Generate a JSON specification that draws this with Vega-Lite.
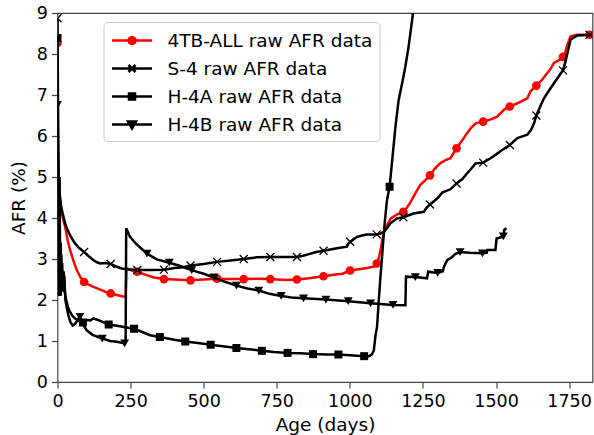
{
  "$schema": "https://vega.github.io/schema/vega-lite/v6.json",
  "width": 535,
  "height": 369,
  "autosize": {"type": "none"},
  "padding": {"left": 57.5, "top": 13, "right": 2, "bottom": 53},
  "config": {
    "font": "DejaVu Sans",
    "view": {"stroke": "#444444", "strokeWidth": 1.2},
    "axis": {
      "domain": false, "grid": false, "tickSize": 6, "tickColor": "#444444", "tickWidth": 1.2,
      "labelFontSize": 17.5, "labelColor": "black", "labelPadding": 4, "labelFlush": false,
      "titleFontSize": 18.5, "titleColor": "black", "titleFontWeight": "normal"
    },
    "axisX": {"titlePadding": 6},
    "axisY": {"titlePadding": 8}
  },
  "datasets": {
    "l_4tb": [
      {"age":0,"afr":8.27},{"age":1,"afr":7.0},{"age":2,"afr":5.8},{"age":4,"afr":5.0},{"age":7,"afr":4.6},{"age":10,"afr":4.35},{"age":15,"afr":4.1},{"age":20,"afr":3.95},{"age":26,"afr":3.79},{"age":35,"afr":3.45},{"age":43,"afr":3.22},{"age":55,"afr":2.95},{"age":66,"afr":2.73},{"age":78,"afr":2.56},{"age":91,"afr":2.44},{"age":105,"afr":2.38},{"age":123,"afr":2.32},{"age":140,"afr":2.27},{"age":151,"afr":2.24},{"age":170,"afr":2.18},{"age":182,"afr":2.16},{"age":203,"afr":2.12},{"age":220,"afr":2.09},{"age":233,"afr":2.08},{"age":236,"afr":2.77},{"age":255,"afr":2.72},{"age":273,"afr":2.69},{"age":300,"afr":2.62},{"age":330,"afr":2.55},{"age":364,"afr":2.51},{"age":400,"afr":2.5},{"age":455,"afr":2.48},{"age":500,"afr":2.5},{"age":546,"afr":2.52},{"age":590,"afr":2.51},{"age":637,"afr":2.51},{"age":680,"afr":2.52},{"age":728,"afr":2.51},{"age":780,"afr":2.49},{"age":819,"afr":2.5},{"age":860,"afr":2.53},{"age":910,"afr":2.58},{"age":950,"afr":2.62},{"age":975,"afr":2.64},{"age":1001,"afr":2.72},{"age":1030,"afr":2.75},{"age":1059,"afr":2.78},{"age":1085,"afr":2.82},{"age":1092,"afr":2.89},{"age":1100,"afr":3.05},{"age":1106,"afr":3.25},{"age":1112,"afr":3.5},{"age":1118,"afr":3.68},{"age":1125,"afr":3.8},{"age":1133,"afr":3.9},{"age":1140,"afr":3.99},{"age":1160,"afr":4.08},{"age":1183,"afr":4.15},{"age":1195,"afr":4.25},{"age":1207,"afr":4.38},{"age":1224,"afr":4.6},{"age":1241,"afr":4.81},{"age":1255,"afr":4.9},{"age":1274,"afr":5.04},{"age":1290,"afr":5.2},{"age":1310,"afr":5.34},{"age":1330,"afr":5.42},{"age":1344,"afr":5.46},{"age":1365,"afr":5.7},{"age":1385,"afr":5.9},{"age":1401,"afr":6.07},{"age":1415,"afr":6.2},{"age":1430,"afr":6.31},{"age":1456,"afr":6.35},{"age":1480,"afr":6.4},{"age":1504,"afr":6.47},{"age":1527,"afr":6.64},{"age":1547,"afr":6.72},{"age":1580,"afr":6.82},{"age":1607,"afr":6.92},{"age":1618,"afr":7.09},{"age":1638,"afr":7.23},{"age":1655,"afr":7.35},{"age":1670,"afr":7.49},{"age":1685,"afr":7.62},{"age":1698,"afr":7.78},{"age":1715,"afr":7.85},{"age":1729,"afr":7.93},{"age":1737,"afr":8.05},{"age":1744,"afr":8.23},{"age":1755,"afr":8.43},{"age":1778,"afr":8.47},{"age":1830,"afr":8.47}
    ],
    "m_4tb": [
      {"age":0,"afr":8.27},{"age":91,"afr":2.44},{"age":182,"afr":2.16},{"age":273,"afr":2.69},{"age":364,"afr":2.51},{"age":455,"afr":2.48},{"age":546,"afr":2.52},{"age":637,"afr":2.51},{"age":728,"afr":2.51},{"age":819,"afr":2.5},{"age":910,"afr":2.58},{"age":1001,"afr":2.72},{"age":1092,"afr":2.89},{"age":1183,"afr":4.15},{"age":1274,"afr":5.04},{"age":1365,"afr":5.7},{"age":1456,"afr":6.35},{"age":1547,"afr":6.72},{"age":1638,"afr":7.23},{"age":1729,"afr":7.93},{"age":1820,"afr":8.47}
    ],
    "l_s4": [
      {"age":0,"afr":8.87},{"age":1,"afr":7.6},{"age":2,"afr":6.2},{"age":3,"afr":5.4},{"age":5,"afr":4.9},{"age":8,"afr":4.55},{"age":12,"afr":4.3},{"age":18,"afr":4.1},{"age":26,"afr":3.87},{"age":35,"afr":3.7},{"age":43,"afr":3.58},{"age":52,"afr":3.47},{"age":60,"afr":3.38},{"age":75,"afr":3.26},{"age":91,"afr":3.17},{"age":110,"afr":3.05},{"age":123,"afr":2.97},{"age":135,"afr":2.92},{"age":146,"afr":2.89},{"age":165,"afr":2.9},{"age":182,"afr":2.88},{"age":203,"afr":2.81},{"age":220,"afr":2.77},{"age":237,"afr":2.75},{"age":273,"afr":2.73},{"age":317,"afr":2.73},{"age":364,"afr":2.74},{"age":400,"afr":2.78},{"age":430,"afr":2.8},{"age":455,"afr":2.84},{"age":500,"afr":2.88},{"age":546,"afr":2.93},{"age":600,"afr":2.97},{"age":637,"afr":3.0},{"age":680,"afr":3.04},{"age":728,"afr":3.05},{"age":780,"afr":3.05},{"age":819,"afr":3.05},{"age":840,"afr":3.08},{"age":860,"afr":3.12},{"age":885,"afr":3.17},{"age":910,"afr":3.2},{"age":956,"afr":3.26},{"age":990,"afr":3.3},{"age":995,"afr":3.38},{"age":1002,"afr":3.42},{"age":1025,"afr":3.54},{"age":1045,"afr":3.58},{"age":1059,"afr":3.6},{"age":1092,"afr":3.6},{"age":1105,"afr":3.62},{"age":1116,"afr":3.66},{"age":1128,"afr":3.76},{"age":1139,"afr":3.87},{"age":1161,"afr":3.99},{"age":1183,"afr":4.02},{"age":1218,"afr":4.11},{"age":1253,"afr":4.15},{"age":1262,"afr":4.25},{"age":1274,"afr":4.33},{"age":1290,"afr":4.42},{"age":1305,"afr":4.52},{"age":1316,"afr":4.62},{"age":1330,"afr":4.66},{"age":1344,"afr":4.7},{"age":1365,"afr":4.84},{"age":1385,"afr":4.95},{"age":1401,"afr":5.09},{"age":1415,"afr":5.2},{"age":1430,"afr":5.33},{"age":1456,"afr":5.35},{"age":1480,"afr":5.45},{"age":1498,"afr":5.54},{"age":1521,"afr":5.66},{"age":1547,"afr":5.78},{"age":1573,"afr":5.95},{"age":1590,"afr":5.99},{"age":1607,"afr":6.03},{"age":1620,"afr":6.15},{"age":1630,"afr":6.31},{"age":1638,"afr":6.5},{"age":1650,"afr":6.7},{"age":1664,"afr":6.92},{"age":1687,"afr":7.17},{"age":1710,"afr":7.41},{"age":1729,"afr":7.6},{"age":1737,"afr":7.8},{"age":1744,"afr":8.02},{"age":1755,"afr":8.35},{"age":1778,"afr":8.45},{"age":1830,"afr":8.47}
    ],
    "m_s4": [
      {"age":0,"afr":8.87},{"age":91,"afr":3.17},{"age":182,"afr":2.88},{"age":273,"afr":2.73},{"age":364,"afr":2.74},{"age":455,"afr":2.84},{"age":546,"afr":2.93},{"age":637,"afr":3.0},{"age":728,"afr":3.05},{"age":819,"afr":3.05},{"age":910,"afr":3.2},{"age":1001,"afr":3.42},{"age":1092,"afr":3.6},{"age":1183,"afr":4.02},{"age":1274,"afr":4.33},{"age":1365,"afr":4.84},{"age":1456,"afr":5.35},{"age":1547,"afr":5.78},{"age":1638,"afr":6.5},{"age":1729,"afr":7.6},{"age":1820,"afr":8.47}
    ],
    "l_h4a": [
      {"age":0,"afr":8.39},{"age":1,"afr":6.6},{"age":2,"afr":5.1},{"age":3,"afr":3.8},{"age":4,"afr":4.9},{"age":5,"afr":3.1},{"age":6,"afr":2.3},{"age":7,"afr":3.6},{"age":9,"afr":2.6},{"age":11,"afr":2.1},{"age":13,"afr":3.1},{"age":15,"afr":2.7},{"age":18,"afr":2.4},{"age":21,"afr":2.7},{"age":25,"afr":2.2},{"age":30,"afr":2.0},{"age":35,"afr":1.85},{"age":40,"afr":1.75},{"age":50,"afr":1.62},{"age":60,"afr":1.55},{"age":70,"afr":1.5},{"age":87,"afr":1.45},{"age":100,"afr":1.51},{"age":112,"afr":1.5},{"age":123,"afr":1.55},{"age":140,"afr":1.51},{"age":160,"afr":1.45},{"age":175,"afr":1.4},{"age":203,"afr":1.37},{"age":237,"afr":1.33},{"age":262,"afr":1.3},{"age":290,"afr":1.22},{"age":317,"afr":1.14},{"age":350,"afr":1.1},{"age":400,"afr":1.03},{"age":437,"afr":0.99},{"age":480,"afr":0.95},{"age":524,"afr":0.91},{"age":565,"afr":0.87},{"age":612,"afr":0.83},{"age":655,"afr":0.8},{"age":699,"afr":0.76},{"age":740,"afr":0.73},{"age":787,"afr":0.71},{"age":830,"afr":0.7},{"age":874,"afr":0.68},{"age":920,"afr":0.67},{"age":961,"afr":0.67},{"age":1000,"afr":0.65},{"age":1049,"afr":0.63},{"age":1066,"afr":0.63},{"age":1076,"afr":0.68},{"age":1082,"afr":0.77},{"age":1088,"afr":1.15},{"age":1093,"afr":1.34},{"age":1099,"afr":2.0},{"age":1104,"afr":2.5},{"age":1110,"afr":3.05},{"age":1118,"afr":3.79},{"age":1127,"afr":4.44},{"age":1136,"afr":4.76},{"age":1145,"afr":5.42},{"age":1156,"afr":6.23},{"age":1167,"afr":6.88},{"age":1179,"afr":7.29},{"age":1190,"afr":7.7},{"age":1201,"afr":8.18},{"age":1216,"afr":9.0},{"age":1230,"afr":9.5}
    ],
    "m_h4a": [
      {"age":0,"afr":8.39},{"age":87,"afr":1.45},{"age":175,"afr":1.4},{"age":262,"afr":1.3},{"age":350,"afr":1.1},{"age":437,"afr":0.99},{"age":524,"afr":0.91},{"age":612,"afr":0.83},{"age":699,"afr":0.76},{"age":787,"afr":0.71},{"age":874,"afr":0.68},{"age":961,"afr":0.67},{"age":1049,"afr":0.63},{"age":1136,"afr":4.76}
    ],
    "l_h4b": [
      {"age":0,"afr":6.76},{"age":1,"afr":5.5},{"age":2,"afr":4.3},{"age":3,"afr":3.0},{"age":4,"afr":2.1},{"age":5,"afr":3.5},{"age":6,"afr":4.6},{"age":7,"afr":5.0},{"age":8,"afr":3.8},{"age":9,"afr":2.8},{"age":11,"afr":3.4},{"age":13,"afr":2.5},{"age":16,"afr":2.9},{"age":19,"afr":2.2},{"age":23,"afr":2.6},{"age":27,"afr":2.0},{"age":32,"afr":1.8},{"age":38,"afr":1.6},{"age":45,"afr":1.45},{"age":52,"afr":1.38},{"age":60,"afr":1.42},{"age":68,"afr":1.5},{"age":76.5,"afr":1.59},{"age":88,"afr":1.4},{"age":100,"afr":1.26},{"age":120,"afr":1.15},{"age":153,"afr":1.06},{"age":180,"afr":1.0},{"age":203,"afr":0.98},{"age":229.5,"afr":0.94},{"age":233,"afr":0.98},{"age":235,"afr":3.75},{"age":248,"afr":3.54},{"age":270,"afr":3.36},{"age":306,"afr":3.13},{"age":340,"afr":2.99},{"age":382.5,"afr":2.91},{"age":420,"afr":2.83},{"age":459,"afr":2.73},{"age":500,"afr":2.64},{"age":535.5,"afr":2.55},{"age":570,"afr":2.45},{"age":612,"afr":2.35},{"age":650,"afr":2.28},{"age":688.5,"afr":2.23},{"age":725,"afr":2.15},{"age":765,"afr":2.1},{"age":800,"afr":2.06},{"age":841.5,"afr":2.04},{"age":918,"afr":2.01},{"age":994.5,"afr":1.97},{"age":1071,"afr":1.92},{"age":1147.5,"afr":1.88},{"age":1190,"afr":1.87},{"age":1192,"afr":2.57},{"age":1224,"afr":2.56},{"age":1264,"afr":2.53},{"age":1268,"afr":2.69},{"age":1300.5,"afr":2.66},{"age":1318,"afr":2.7},{"age":1322,"afr":2.81},{"age":1333,"afr":2.97},{"age":1350,"afr":3.05},{"age":1360,"afr":3.12},{"age":1377,"afr":3.17},{"age":1410,"afr":3.15},{"age":1453.5,"afr":3.14},{"age":1468,"afr":3.15},{"age":1470,"afr":3.22},{"age":1498,"afr":3.22},{"age":1502,"afr":3.5},{"age":1525,"afr":3.55},{"age":1528,"afr":3.71},{"age":1536,"afr":3.75}
    ],
    "m_h4b": [
      {"age":0,"afr":6.76},{"age":76.5,"afr":1.59},{"age":153,"afr":1.06},{"age":229.5,"afr":0.94},{"age":306,"afr":3.13},{"age":382.5,"afr":2.91},{"age":459,"afr":2.73},{"age":535.5,"afr":2.55},{"age":612,"afr":2.35},{"age":688.5,"afr":2.23},{"age":765,"afr":2.1},{"age":841.5,"afr":2.04},{"age":918,"afr":2.01},{"age":994.5,"afr":1.97},{"age":1071,"afr":1.92},{"age":1147.5,"afr":1.88},{"age":1224,"afr":2.56},{"age":1300.5,"afr":2.66},{"age":1377,"afr":3.17},{"age":1453.5,"afr":3.14},{"age":1525,"afr":3.55}
    ]
  },
  "encoding": {
    "x": {"field": "age", "type": "quantitative", "title": "Age (days)",
          "scale": {"domain": [0, 1830], "nice": false, "zero": false},
          "axis": {"values": [0, 250, 500, 750, 1000, 1250, 1500, 1750], "format": "d"}},
    "y": {"field": "afr", "type": "quantitative", "title": "AFR (%)",
          "scale": {"domain": [0, 9], "nice": false},
          "axis": {"values": [0, 1, 2, 3, 4, 5, 6, 7, 8, 9], "format": "d"}}
  },
  "layer": [
    {"data": {"name": "l_4tb"}, "mark": {"type": "line", "strokeWidth": 2.5, "clip": true},
     "encoding": {"color": {"datum": "4TB-ALL raw AFR data",
       "scale": {"domain": ["4TB-ALL raw AFR data", "S-4 raw AFR data", "H-4A raw AFR data", "H-4B raw AFR data"], "range": ["#ff0000", "black", "black", "black"]},
       "legend": {"title": null, "orient": "none", "legendX": 46, "legendY": 9,
         "fillColor": "white", "strokeColor": "#cccccc", "cornerRadius": 4, "padding": 7,
         "symbolSize": 400, "symbolStrokeWidth": 2.5, "labelFontSize": 18.5, "labelColor": "black",
         "labelLimit": 0, "labelOffset": 34, "rowPadding": 7,
         "encode": {"symbols": {"update": {
           "shape": {"signal": "datum.value === '4TB-ALL raw AFR data' ? 'M-1,0H3M1.35,0L1.3,0.175L1.175,0.3L1,0.35L0.825,0.3L0.7,0.175L0.65,0L0.7,-0.175L0.825,-0.3L1,-0.35L1.175,-0.3L1.3,-0.175Z' : datum.value === 'S-4 raw AFR data' ? 'M-1,0H3M0.65,-0.35L1.35,0.35M0.65,0.35L1.35,-0.35' : datum.value === 'H-4A raw AFR data' ? 'M-1,0H3M0.7,-0.3H1.3V0.3H0.7Z' : 'M-1,0H3M0.6,-0.3H1.4L1,0.4Z'"},
           "fill": {"signal": "datum.value === '4TB-ALL raw AFR data' ? '#ff0000' : 'black'"},
           "stroke": {"signal": "datum.value === '4TB-ALL raw AFR data' ? '#ff0000' : 'black'"},
           "strokeWidth": {"value": 2.5},
           "opacity": {"value": 1}
         }}}
       }}}},
    {"data": {"name": "m_4tb"}, "mark": {"type": "point", "shape": "circle", "filled": true, "opacity": 1, "size": 75, "clip": true},
     "encoding": {"color": {"datum": "4TB-ALL raw AFR data"}}},
    {"data": {"name": "l_s4"}, "mark": {"type": "line", "strokeWidth": 2.5, "clip": true},
     "encoding": {"color": {"datum": "S-4 raw AFR data"}}},
    {"data": {"name": "m_s4"}, "mark": {"type": "point", "shape": "M-1,-1L1,1M-1,1L1,-1", "filled": false, "opacity": 1, "size": 64, "strokeWidth": 1.3, "clip": true},
     "encoding": {"color": {"datum": "S-4 raw AFR data"}}},
    {"data": {"name": "l_h4a"}, "mark": {"type": "line", "strokeWidth": 2.5, "clip": true},
     "encoding": {"color": {"datum": "H-4A raw AFR data"}}},
    {"data": {"name": "m_h4a"}, "mark": {"type": "point", "shape": "square", "filled": true, "opacity": 1, "size": 64, "clip": true},
     "encoding": {"color": {"datum": "H-4A raw AFR data"}}},
    {"data": {"name": "l_h4b"}, "mark": {"type": "line", "strokeWidth": 2.5, "clip": true},
     "encoding": {"color": {"datum": "H-4B raw AFR data"}}},
    {"data": {"name": "m_h4b"}, "mark": {"type": "point", "shape": "triangle-down", "filled": true, "opacity": 1, "size": 80, "clip": true},
     "encoding": {"color": {"datum": "H-4B raw AFR data"}}}
  ]
}
